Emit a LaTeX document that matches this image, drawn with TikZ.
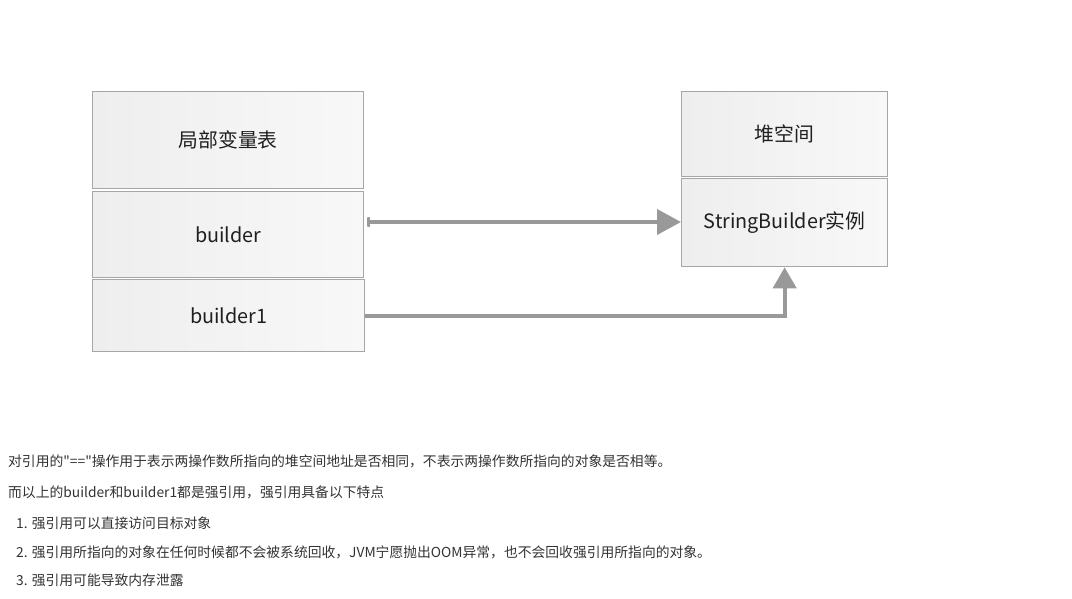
\documentclass[tikz,border=0pt]{standalone}
\usepackage{fontspec}
\setmainfont{Noto Sans CJK SC}[Ligatures=TeXOff]
\usetikzlibrary{arrows.meta}
\definecolor{boxline}{HTML}{A6A6A6}
\definecolor{boxl}{HTML}{EEEEEE}
\definecolor{boxr}{HTML}{F8F8F8}
\definecolor{conn}{HTML}{999999}
\definecolor{txt}{HTML}{333333}
\tikzset{
  cell/.style={draw=boxline, line width=1.3pt, left color=boxl, right color=boxr, anchor=north west, inner sep=0pt, font=\fontsize{19.8}{22}\selectfont, text=black!88},
  link/.style={draw=conn, line width=4pt},
  para/.style={anchor=base west, inner sep=0pt, text=txt, font=\fontsize{13.8}{15}\selectfont}
}
\begin{document}
\begin{tikzpicture}[x=1pt,y=-1pt]
\useasboundingbox (0,0) rectangle (1072,599);
\fill[white] (0,0) rectangle (1072,599);
% left table
\node[cell, minimum width=271pt, minimum height=97pt] (lvt) at (92,91) {局部变量表};
\node[cell, minimum width=271pt, minimum height=86pt] (b0) at (92,191) {builder};
\node[cell, minimum width=272pt, minimum height=72pt] (b1) at (92,279) {builder1};
% right table
\node[cell, minimum width=206pt, minimum height=85pt] (heap) at (681,91) {堆空间};
\node[cell, minimum width=206pt, minimum height=88pt] (sb) at (681,178) {StringBuilder实例};
% connectors
\coordinate (s0) at ([xshift=2.5pt]b0.east |- 0,222);
\coordinate (e0) at (sb.west |- 0,222);
\draw[link, {Rectangle[length=3.5pt,width=10pt,round]}-{Triangle[length=24pt,width=25pt]}] (s0) -- (e0);
\draw[link, -{Triangle[length=21pt,width=23pt]}] (b1.east) -| (sb.south);
% text
\node[para] (t1) at (8,466) {对引用的"=="操作用于表示两操作数所指向的堆空间地址是否相同，不表示两操作数所指向的对象是否相等。};
\node[para] (t2) at (8,497) {而以上的builder和builder1都是强引用，强引用具备以下特点};
\node[para] (t3) at (16,528) {1. 强引用可以直接访问目标对象};
\node[para] (t4) at (16,557) {2. 强引用所指向的对象在任何时候都不会被系统回收，JVM宁愿抛出OOM异常，也不会回收强引用所指向的对象。};
\node[para] (t5) at (16,585) {3. 强引用可能导致内存泄露};
\end{tikzpicture}
\end{document}
